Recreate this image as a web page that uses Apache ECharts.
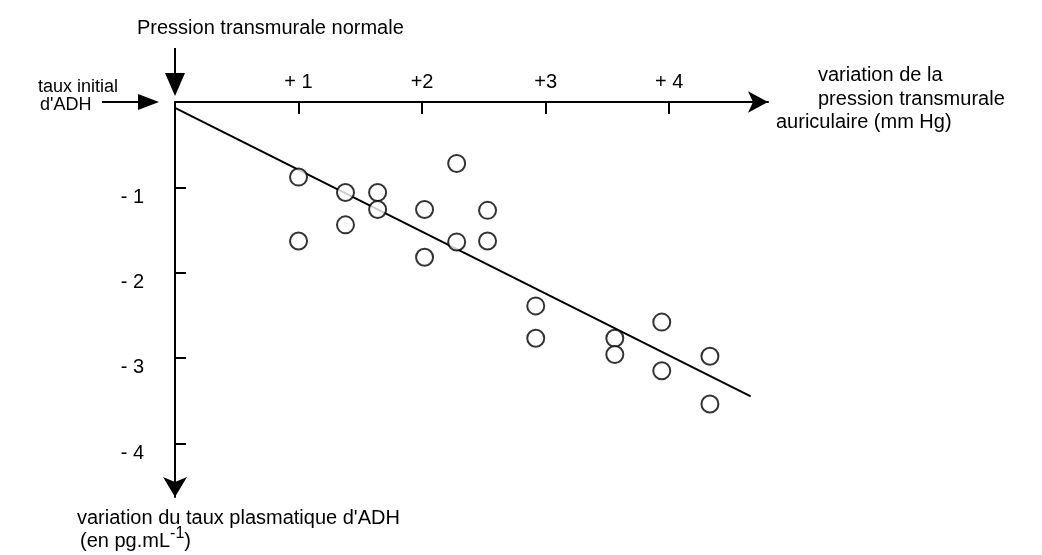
<!DOCTYPE html>
<html>
<head>
<meta charset="utf-8">
<script src="https://cdn.jsdelivr.net/npm/echarts@6/dist/echarts.min.js"></script>
<style>
  html, body { margin: 0; padding: 0; background: #fff; }
  #chart { width: 1042px; height: 555px; }
</style>
</head>
<body>
<div id="chart"></div>
<script>
// variation de la pression transmurale (mm Hg)
const pressure = [1.00, 1.00, 1.38, 1.38, 1.64, 1.64, 2.02, 2.02, 2.28, 2.28,
                  2.53, 2.53, 2.92, 2.92, 3.56, 3.56, 3.94, 3.94, 4.33, 4.33];
// variation du taux plasmatique d'ADH (pg/mL)
const adhChange = [-0.88, -1.63, -1.06, -1.44, -1.06, -1.26, -1.26, -1.82, -0.72, -1.64,
                   -1.27, -1.63, -2.39, -2.77, -2.77, -2.96, -2.58, -3.15, -2.98, -3.54];
// droite de regression
const fitX = [0.0, 4.66];
const fitY = [-0.07, -3.45];

const xTickValues = [1, 2, 3, 4];
const xTickLabels = ['+ 1', '+2', '+3', '+ 4'];
const yTickValues = [-1, -2, -3, -4];
const yTickLabels = ['- 1', '- 2', '- 3', '- 4'];

const FONT = '"Liberation Sans", Arial, sans-serif';

let chart = echarts.init(document.getElementById('chart'));

let option = {
  backgroundColor: '#fff',
  animation: false,
  grid: {
    left: 175, top: 102, width: 593, height: 395,
    containLabel: false,
    outerBoundsMode: 'none'
  },
  xAxis: {
    type: 'value',
    position: 'top',
    min: 0,
    max: 4.8,
    splitLine: { show: false },
    axisLine: {
      onZero: false,
      symbol: ['none', 'arrow'],
      symbolSize: [16, 20],
      lineStyle: { color: '#000', width: 2 }
    },
    axisTick: {
      customValues: xTickValues,
      inside: true,
      length: 12,
      lineStyle: { color: '#000', width: 2 }
    },
    axisLabel: {
      customValues: xTickValues,
      margin: 10,
      color: '#000',
      fontSize: 20,
      fontFamily: FONT,
      formatter: function (v) {
        return xTickLabels[xTickValues.indexOf(v)];
      }
    }
  },
  yAxis: {
    type: 'value',
    min: -4.63,
    max: 0,
    splitLine: { show: false },
    axisLine: {
      onZero: false,
      symbol: ['arrow', 'none'],
      symbolSize: [18, 20],
      lineStyle: { color: '#000', width: 2 }
    },
    axisTick: {
      customValues: yTickValues,
      inside: true,
      length: 11,
      lineStyle: { color: '#000', width: 2 }
    },
    axisLabel: {
      customValues: yTickValues,
      margin: 31,
      color: '#000',
      fontSize: 20,
      fontFamily: FONT,
      verticalAlign: 'top',
      padding: [0, 0, 0, 0],
      formatter: function (v) {
        return yTickLabels[yTickValues.indexOf(v)];
      }
    }
  },
  series: [
    {
      type: 'line',
      data: fitX.map((x, i) => [x, fitY[i]]),
      showSymbol: false,
      lineStyle: { color: '#000', width: 2 },
      z: 2
    },
    {
      type: 'scatter',
      data: pressure.map((x, i) => [x, adhChange[i]]),
      symbol: 'circle',
      symbolSize: 17,
      itemStyle: { color: '#fff', borderColor: '#000', borderWidth: 2 },
      z: 3
    }
  ],
  graphic: [
    // fleche "Pression transmurale normale"
    { type: 'line', shape: { x1: 175, y1: 48, x2: 175, y2: 80 }, style: { stroke: '#000', lineWidth: 2 } },
    { type: 'polygon', shape: { points: [[165, 73], [185, 73], [175, 96]] }, style: { fill: '#000' } },
    // fleche "taux initial d'ADH"
    { type: 'line', shape: { x1: 102, y1: 102, x2: 145, y2: 102 }, style: { stroke: '#000', lineWidth: 2 } },
    { type: 'polygon', shape: { points: [[138, 94], [138, 110], [159, 102]] }, style: { fill: '#000' } },
    { type: 'text', x: 137, y: 28, style: { text: 'Pression transmurale normale', font: '20px ' + FONT, fill: '#000', verticalAlign: 'middle' } },
    { type: 'text', x: 118, y: 87, style: { text: 'taux initial', font: '18px ' + FONT, fill: '#000', align: 'right', verticalAlign: 'middle' } },
    { type: 'text', x: 40, y: 105, style: { text: "d'ADH", font: '18px ' + FONT, fill: '#000', verticalAlign: 'middle' } },
    { type: 'text', x: 818, y: 75, style: { text: 'variation de la', font: '20px ' + FONT, fill: '#000', verticalAlign: 'middle' } },
    { type: 'text', x: 818, y: 99, style: { text: 'pression transmurale', font: '20px ' + FONT, fill: '#000', verticalAlign: 'middle' } },
    { type: 'text', x: 776, y: 122, style: { text: 'auriculaire (mm Hg)', font: '20px ' + FONT, fill: '#000', verticalAlign: 'middle' } },
    { type: 'text', x: 77, y: 518, style: { text: "variation du taux plasmatique d'ADH", font: '20px ' + FONT, fill: '#000', verticalAlign: 'middle' } },
    { type: 'text', x: 80, y: 541, style: {
        text: '(en pg.mL{sup|-1})', font: '20px ' + FONT, fill: '#000', verticalAlign: 'middle',
        rich: { sup: { fontSize: 16, fontFamily: FONT, padding: [0, 0, 14, 0] } }
      } }
  ]
};

chart.setOption(option);
</script>
</body>
</html>
